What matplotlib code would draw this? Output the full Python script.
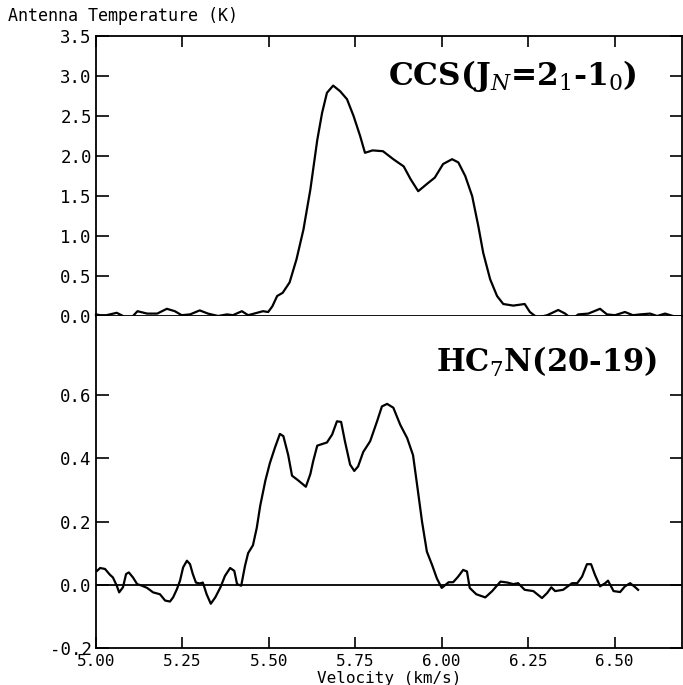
import matplotlib
matplotlib.use("Agg")
import matplotlib.pyplot as plt

# ---------------- data ----------------
ccs_v = [5.000, 5.012, 5.030, 5.060, 5.078, 5.093, 5.107, 5.120, 5.148, 5.177,
         5.205, 5.228, 5.248, 5.272, 5.300, 5.324, 5.353, 5.379, 5.396, 5.422,
         5.440, 5.466, 5.483, 5.498, 5.510, 5.524, 5.540, 5.560, 5.580, 5.600,
         5.620, 5.640, 5.654, 5.668, 5.686, 5.706, 5.726, 5.745, 5.764, 5.778,
         5.800, 5.830, 5.860, 5.890, 5.910, 5.932, 5.957, 5.980, 6.004, 6.030,
         6.048, 6.068, 6.088, 6.106, 6.120, 6.140, 6.160, 6.178, 6.207, 6.240,
         6.255, 6.276, 6.305, 6.337, 6.357, 6.377, 6.395, 6.424, 6.458, 6.478,
         6.501, 6.530, 6.553, 6.574, 6.603, 6.623, 6.646, 6.669, 6.690]
ccs_t = [0.02, 0.01, 0.01, 0.04, 0.00, -0.05, 0.00, 0.06, 0.03, 0.03,
         0.09, 0.06, 0.01, 0.02, 0.07, 0.03, 0.00, 0.02, 0.01, 0.06,
         0.01, 0.04, 0.06, 0.05, 0.12, 0.25, 0.29, 0.42, 0.71, 1.08,
         1.58, 2.20, 2.54, 2.79, 2.88, 2.81, 2.71, 2.50, 2.25, 2.04,
         2.07, 2.06, 1.96, 1.87, 1.71, 1.56, 1.65, 1.73, 1.90, 1.96,
         1.92, 1.75, 1.50, 1.12, 0.79, 0.46, 0.25, 0.15, 0.13, 0.15,
         0.05, -0.02, 0.01, 0.075, 0.03, -0.04, 0.02, 0.03, 0.09, 0.02,
         0.01, 0.05, 0.01, 0.02, 0.03, 0.00, 0.03, 0.00, -0.03]

hc7n_v = [5.003, 5.012, 5.026, 5.040, 5.049, 5.060, 5.067, 5.078, 5.087, 5.095,
          5.107, 5.119, 5.133, 5.148, 5.165, 5.185, 5.200, 5.214, 5.223, 5.234,
          5.243, 5.252, 5.263, 5.272, 5.280, 5.289, 5.300, 5.309, 5.320, 5.332,
          5.345, 5.360, 5.373, 5.388, 5.400, 5.408, 5.420, 5.431, 5.440, 5.454,
          5.465, 5.475, 5.490, 5.503, 5.518, 5.532, 5.542, 5.556, 5.567, 5.585,
          5.607, 5.620, 5.628, 5.640, 5.668, 5.683, 5.697, 5.709, 5.720, 5.735,
          5.747, 5.758, 5.773, 5.793, 5.813, 5.827, 5.842, 5.860, 5.880, 5.900,
          5.917, 5.930, 5.943, 5.957, 5.972, 5.986, 6.000, 6.020, 6.033, 6.047,
          6.062, 6.073, 6.081, 6.100, 6.126, 6.146, 6.170, 6.190, 6.207, 6.221,
          6.240, 6.265, 6.290, 6.305, 6.317, 6.328, 6.351, 6.377, 6.392, 6.406,
          6.420, 6.432, 6.443, 6.458, 6.473, 6.481, 6.497, 6.516, 6.530, 6.545,
          6.560, 6.568]
hc7n_t = [0.044, 0.053, 0.050, 0.032, 0.023, -0.003, -0.024, -0.008, 0.034, 0.039,
          0.023, 0.002, -0.003, -0.010, -0.024, -0.030, -0.050, -0.053, -0.040, -0.014,
          0.013, 0.055, 0.076, 0.065, 0.034, 0.007, 0.004, 0.007, -0.030, -0.060,
          -0.040, -0.008, 0.028, 0.053, 0.044, 0.002, -0.003, 0.060, 0.100, 0.125,
          0.180, 0.250, 0.330, 0.385, 0.435, 0.477, 0.470, 0.410, 0.345, 0.330,
          0.310, 0.350, 0.390, 0.440, 0.450, 0.475, 0.517, 0.515, 0.454, 0.380,
          0.360, 0.374, 0.420, 0.454, 0.517, 0.564, 0.572, 0.560, 0.506, 0.464,
          0.410, 0.306, 0.200, 0.105, 0.063, 0.020, -0.010, 0.008, 0.008, 0.025,
          0.047, 0.042, -0.010, -0.030, -0.040, -0.020, 0.010, 0.007, 0.002, 0.005,
          -0.016, -0.020, -0.042, -0.026, -0.008, -0.020, -0.016, 0.005, 0.005, 0.026,
          0.065, 0.065, 0.032, -0.005, 0.005, 0.013, -0.020, -0.023, -0.005, 0.005,
          -0.008, -0.016]

xticks = [5.00, 5.25, 5.50, 5.75, 6.00, 6.25, 6.50]
xtick_labels = ["5.00", "5.25", "5.50", "5.75", "6.00", "6.25", "6.50"]
top_yticks = [0.0, 0.5, 1.0, 1.5, 2.0, 2.5, 3.0, 3.5]
top_ylabels = ["0.0", "0.5", "1.0", "1.5", "2.0", "2.5", "3.0", "3.5"]
bot_yticks = [-0.2, 0.0, 0.2, 0.4, 0.6]
bot_ylabels = ["-0.2", "0.0", "0.2", "0.4", "0.6"]

ccs_label = r"CCS(J$_{N}$=2$_{1}$-1$_{0}$)"
hc7n_label = r"HC$_{7}$N(20-19)"
ylabel_text = "Antenna Temperature (K)"
xlabel_text = "Velocity (km/s)"

# ---------------- figure ----------------
plt.rcParams["mathtext.fontset"] = "dejavuserif"
mono = "DejaVu Sans Mono"
W, H = 683, 685
fig = plt.figure(figsize=(W / 100, H / 100), dpi=100)

L, R = 96 / W, 682 / W
ax1 = fig.add_axes([L, 1 - 316 / H, R - L, (316 - 36) / H])
ax2 = fig.add_axes([L, 1 - 648 / H, R - L, (648 - 316) / H])

lw_trace = 1.6
lw_axes = 1.3

for ax in (ax1, ax2):
    ax.set_xlim(5.0, 6.695)
    for s in ax.spines.values():
        s.set_linewidth(lw_axes)
    ax.set_xticks(xticks)

ax1.plot(ccs_v, ccs_t, color="black", lw=lw_trace, clip_on=False)
ax1.set_ylim(0, 3.5)
ax1.set_yticks(top_yticks)
ax1.set_yticklabels(top_ylabels, fontfamily=mono, fontsize=12.5)
ax1.tick_params(axis="x", bottom=False, labelbottom=False, top=True,
                direction="in", length=8, width=1.2)
ax1.tick_params(axis="y", left=True, right=True, direction="in",
                length=9, width=1.2, pad=3)
ax1.text(0.923, 0.857, ccs_label, transform=ax1.transAxes, ha="right",
         va="center", fontsize=22.5, fontfamily="DejaVu Serif", fontweight="bold")

ax2.plot(hc7n_v, hc7n_t, color="black", lw=lw_trace)
ax2.axhline(0, color="black", lw=lw_axes)
ax2.set_ylim(-0.2, 0.85)
ax2.spines["top"].set_visible(False)
ax2.set_yticks(bot_yticks)
ax2.set_yticklabels(bot_ylabels, fontfamily=mono, fontsize=12.5)
ax2.set_xticklabels(xtick_labels, fontfamily=mono, fontsize=11.5)
ax2.tick_params(axis="x", bottom=True, top=False, direction="in",
                length=8, width=1.2, pad=4)
ax2.tick_params(axis="y", left=True, right=True, direction="in",
                length=9, width=1.2, pad=3)
ax2.text(0.957, 0.861, hc7n_label, transform=ax2.transAxes, ha="right",
         va="center", fontsize=22, fontfamily="DejaVu Serif", fontweight="bold")

fig.text(8 / W, 1 - 16 / H, ylabel_text, fontfamily=mono, fontsize=12,
         ha="left", va="center")
fig.text((96 + 682) / 2 / W, 1 - 678 / H, xlabel_text, fontfamily=mono,
         fontsize=11.5, ha="center", va="center")

fig.savefig("out.png", dpi=100)
